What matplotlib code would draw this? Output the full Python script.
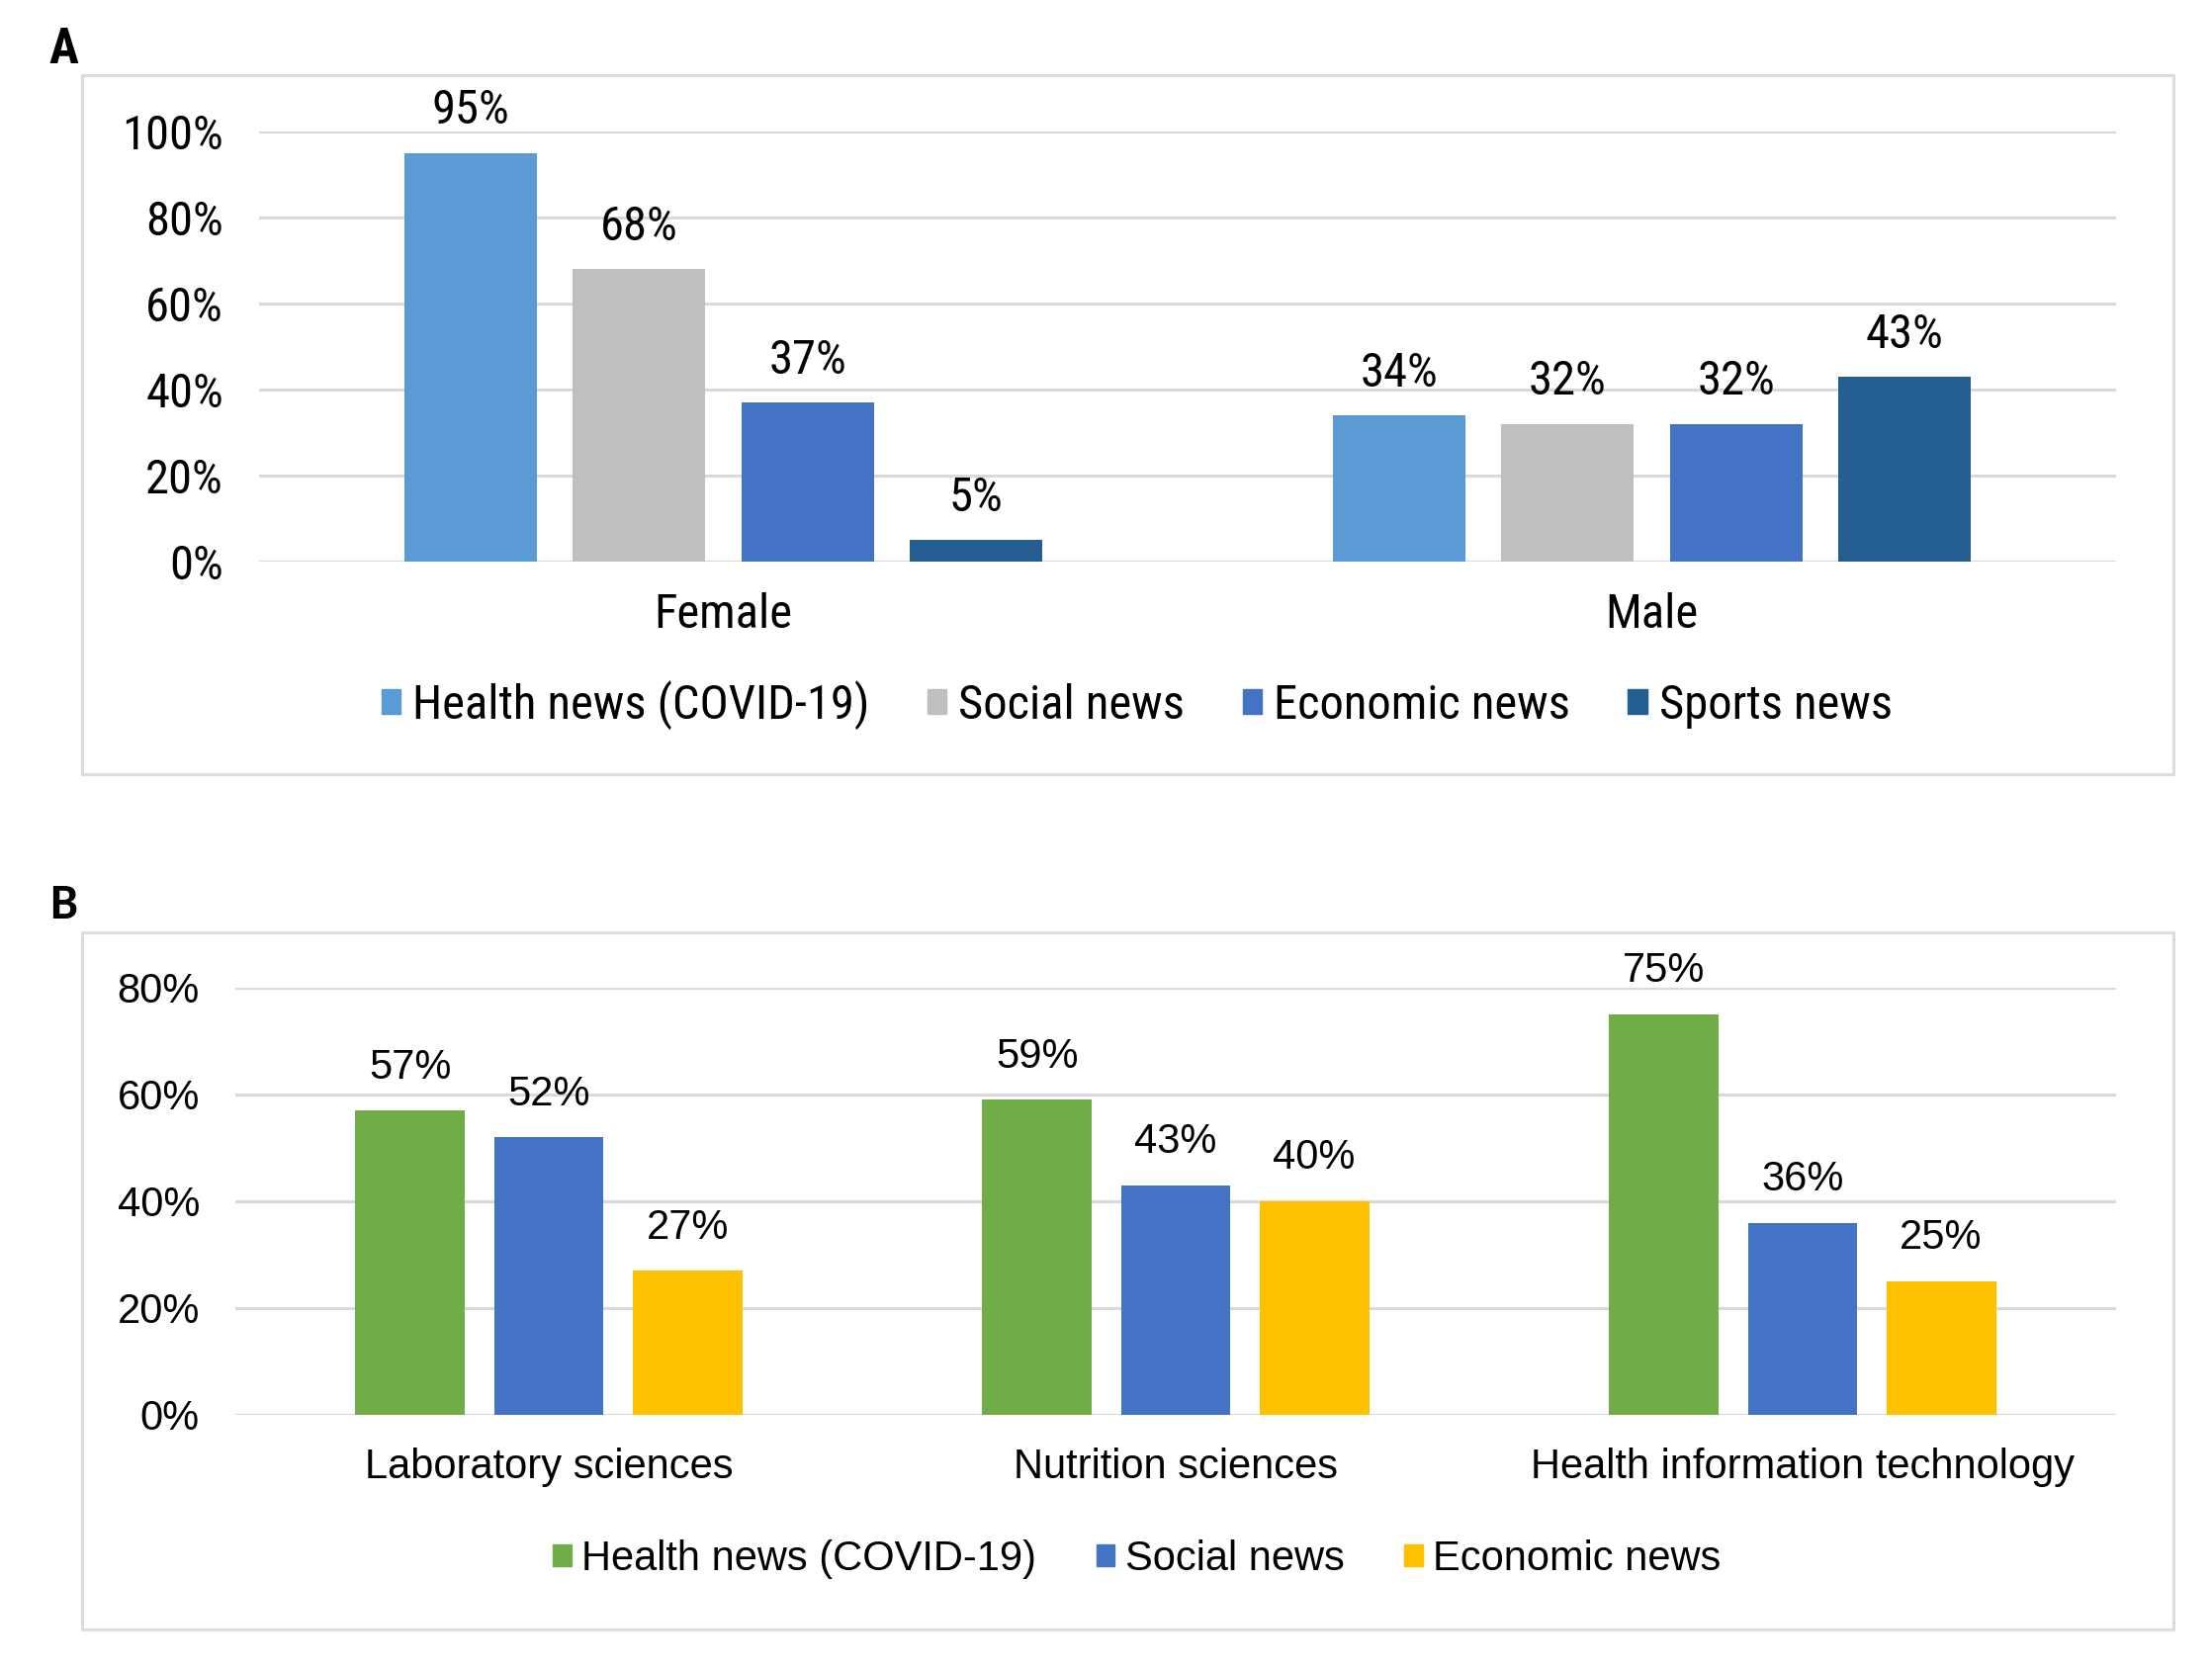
import matplotlib
matplotlib.use("Agg")
import matplotlib.pyplot as plt
from matplotlib.patches import Rectangle, Patch

# panel A: news type by gender
genders = ["Female", "Male"]
news_a = ["Health news (COVID-19)", "Social news", "Economic news", "Sports news"]
female_vals = [95, 68, 37, 5]
male_vals = [34, 32, 32, 43]
colors_a = ["#5B9BD5", "#BFBFBF", "#4472C4", "#255E91"]

# panel B: news type by field of study
fields = ["Laboratory sciences", "Nutrition sciences", "Health information technology"]
news_b = ["Health news (COVID-19)", "Social news", "Economic news"]
health_b = [57, 59, 75]
social_b = [52, 43, 36]
economic_b = [27, 40, 25]
colors_b = ["#70AD47", "#4472C4", "#FFC000"]

narrow = ["Roboto Condensed", "DejaVu Sans"]
plt.rcParams["font.family"] = ["Liberation Sans", "DejaVu Sans"]

W, H = 2237, 1687
fig = plt.figure(figsize=(W / 100, H / 100), dpi=100)
grid_col = "#D9D9D9"


def frame(x0, y0, x1, y1):
    fig.patches.append(Rectangle((x0 / W, 1 - y1 / H), (x1 - x0) / W, (y1 - y0) / H,
                                 transform=fig.transFigure, fill=False,
                                 edgecolor="#DCDCDC", linewidth=2.2))


def style_axis(ax, ymax, font, size):
    ticks = list(range(0, int(ymax * 100) + 1, 20))
    ax.set_ylim(0, ymax)
    ax.set_yticks([v / 100 for v in ticks])
    ax.set_yticklabels([f"{v}%" for v in ticks], fontfamily=font, fontsize=size)
    for s in ax.spines.values():
        s.set_visible(False)
    ax.yaxis.grid(True, color=grid_col, linewidth=2.2)
    ax.set_axisbelow(True)
    ax.tick_params(axis="y", length=0, pad=26)
    ax.tick_params(axis="x", length=0)


# ---- panel A ----
frame(83, 76, 2198, 783)
fig.text(64 / W, 1 - 50 / H, "A", fontfamily=narrow, fontweight="bold",
         fontsize=36, ha="center", va="center")
ax1 = fig.add_axes([262 / W, 1 - 568 / H, (2140 - 262) / W, (568 - 133) / H])
style_axis(ax1, 1.0, narrow, 35)
ax1.set_xlim(-0.5, len(genders) - 0.5)
width_a, step_a = 0.143, 0.1816
for i, (name, col) in enumerate(zip(news_a, colors_a)):
    vals = [female_vals[i] / 100, male_vals[i] / 100]
    xs = [g + (i - 1.5) * step_a for g in range(len(genders))]
    bars = ax1.bar(xs, vals, width_a, color=col, label=name)
    ax1.bar_label(bars, labels=[f"{round(v * 100)}%" for v in vals], padding=14,
                  fontfamily=narrow, fontsize=35, clip_on=False)
ax1.set_xticks(range(len(genders)))
ax1.set_xticklabels(genders, fontfamily=narrow, fontsize=35)
ax1.tick_params(axis="x", pad=22)
handles_a = [Patch(color=c) for c in colors_a]
fig.legend(handles_a, news_a, loc="center", bbox_to_anchor=(0.514, 1 - 713 / H),
           ncol=4, frameon=False, prop={"family": narrow, "size": 35},
           handlelength=0.4, handleheight=0.4, handletextpad=0.25, columnspacing=1.2)

# ---- panel B ----
frame(83, 943, 2198, 1648)
fig.text(64 / W, 1 - 915 / H, "B", fontfamily=["Carlito", "DejaVu Sans"], fontweight="bold",
         fontsize=36, ha="center", va="center")
ax2 = fig.add_axes([238 / W, 1 - 1431 / H, (2140 - 238) / W, (1431 - 999) / H])
style_axis(ax2, 0.8, ["Liberation Sans", "DejaVu Sans"], 30)
ax2.set_xlim(-0.5, len(fields) - 0.5)
width_b, step_b = 0.175, 0.221
for i, (name, col, series) in enumerate(zip(news_b, colors_b, [health_b, social_b, economic_b])):
    vals = [v / 100 for v in series]
    xs = [g + (i - 1) * step_b for g in range(len(fields))]
    bars = ax2.bar(xs, vals, width_b, color=col, label=name)
    ax2.bar_label(bars, labels=[f"{v}%" for v in series], padding=17,
                  fontsize=30, clip_on=False)
ax2.set_xticks(range(len(fields)))
ax2.set_xticklabels(fields, fontsize=30)
ax2.tick_params(axis="x", pad=24)
handles_b = [Patch(color=c) for c in colors_b]
fig.legend(handles_b, news_b, loc="center", bbox_to_anchor=(0.514, 1 - 1577 / H),
           ncol=3, frameon=False, prop={"size": 30},
           handlelength=0.45, handleheight=0.45, handletextpad=0.25, columnspacing=1.45)

fig.savefig("out.png", dpi=100, facecolor="white")
